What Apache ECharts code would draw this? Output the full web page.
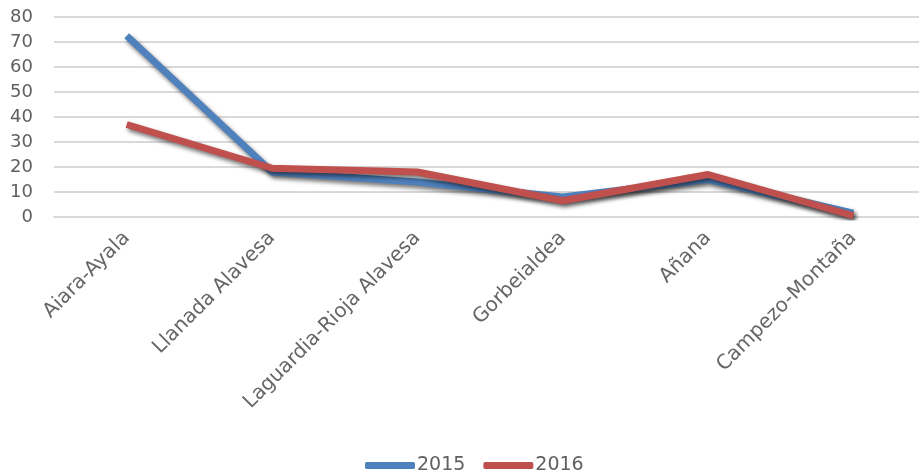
<!DOCTYPE html>
<html>
<head>
<meta charset="utf-8">
<script src="https://cdn.jsdelivr.net/npm/echarts@6/dist/echarts.min.js"></script>
<style>html,body{margin:0;padding:0;background:#fff}#c{width:919px;height:473px}</style>
</head>
<body>
<div id="c"></div>
<script>
const categories = ['Aiara-Ayala', 'Llanada Alavesa', 'Laguardia-Rioja Alavesa', 'Gorbeialdea', 'Añana', 'Campezo-Montaña'];
const values2015 = [72.5, 18, 14, 8, 15, 1.5];
const values2016 = [37, 19.5, 18, 6.5, 17, 0.5];
const seriesNames = ['2015', '2016'];

const chart = echarts.init(document.getElementById('c'));
const font = 'DejaVu Sans';
const shadow = {shadowColor: 'rgba(0,0,0,0.55)', shadowBlur: 4, shadowOffsetX: 2, shadowOffsetY: 3};
chart.setOption({
  animation: false,
  grid: {left: 54, width: 872, top: 17, height: 200, containLabel: false, outerBoundsMode: 'none'},
  legend: {
    top: 451, left: 360, itemWidth: 50, itemHeight: 7, itemGap: 18,
    icon: 'roundRect',
    textStyle: {fontFamily: font, fontSize: 19, color: '#606060', padding: [0, 0, 0, -3]},
    data: seriesNames
  },
  xAxis: {
    type: 'category', data: categories, boundaryGap: true,
    axisLine: {lineStyle: {color: '#d9d9d9', width: 2}},
    axisTick: {show: false},
    axisLabel: {rotate: 45, interval: 0, margin: 18, fontFamily: font, fontSize: 20, color: '#666666'}
  },
  yAxis: {
    type: 'value', min: 0, max: 80, interval: 10,
    axisLine: {show: false}, axisTick: {show: false},
    splitLine: {lineStyle: {color: '#d9d9d9', width: 2}},
    axisLabel: {margin: 21, fontFamily: font, fontSize: 18, color: '#606060'}
  },
  series: [
    {name: seriesNames[0], type: 'line', data: values2015, symbol: 'none', color: '#4F81BD',
     lineStyle: Object.assign({width: 7, color: '#4F81BD'}, shadow)},
    {name: seriesNames[1], type: 'line', data: values2016, symbol: 'none', color: '#C0504D',
     lineStyle: Object.assign({width: 7, color: '#C0504D'}, shadow)}
  ]
});
</script>
</body>
</html>
